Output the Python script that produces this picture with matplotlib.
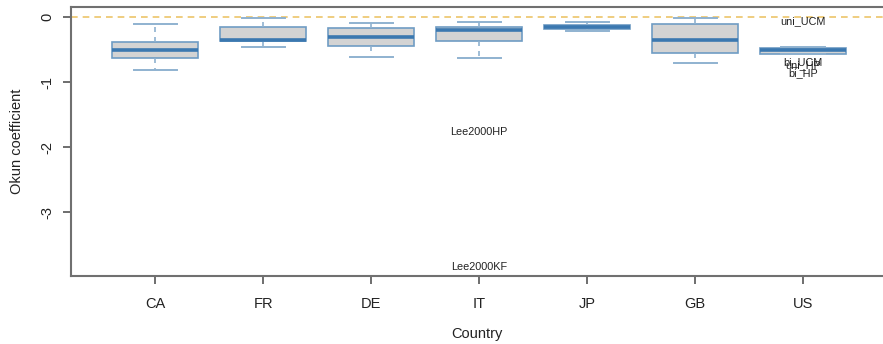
import matplotlib
matplotlib.use("Agg")
import matplotlib.pyplot as plt

plt.rcParams['font.family'] = ['Liberation Sans', 'DejaVu Sans']

# five-number summaries
countries = ['CA', 'FR', 'DE', 'IT', 'JP', 'GB', 'US']
whislo = [-0.82, -0.46, -0.615, -0.63, -0.222, -0.70, -0.575]
q1 = [-0.631, -0.369, -0.452, -0.375, -0.184, -0.56, -0.569]
med = [-0.503, -0.349, -0.303, -0.206, -0.149, -0.354, -0.514]
q3 = [-0.385, -0.154, -0.165, -0.149, -0.118, -0.108, -0.477]
whishi = [-0.108, -0.02, -0.098, -0.072, -0.083, -0.015, -0.457]

# labelled outliers (bi_UCM / uni_HP overlap in the original too)
out_labels = ['uni_UCM', 'bi_UCM', 'uni_HP', 'bi_HP', 'Lee2000HP', 'Lee2000KF']
out_x = [7, 7, 7, 7, 4, 4]
out_y = [-0.07, -0.70, -0.745, -0.86, -1.77, -3.84]

fig = plt.figure(figsize=(8.83, 3.44), dpi=100)
ax = fig.add_axes([0.0804, 0.1985, 0.9196, 0.7803])

stats = []
for i, c in enumerate(countries):
    stats.append(dict(label=c, whislo=whislo[i], q1=q1[i], med=med[i],
                      q3=q3[i], whishi=whishi[i], fliers=[]))

box_edge = '#6f9cc4'
ax.bxp(stats, positions=range(1, len(countries) + 1), widths=0.8,
       capwidths=0.4, patch_artist=True, showfliers=False,
       boxprops=dict(facecolor='#d3d3d3', edgecolor=box_edge, linewidth=1.2),
       medianprops=dict(color='#3b78b0', linewidth=2.6, solid_capstyle='butt'),
       whiskerprops=dict(color='#8fb2d0', linewidth=1.2, linestyle=(0, (3, 3))),
       capprops=dict(color='#8fb2d0', linewidth=1.4))

ax.axhline(0, color='#ecc56a', linestyle=(0, (4, 3)), linewidth=1.2, zorder=0)

for lab, x, y in zip(out_labels, out_x, out_y):
    ax.text(x, y, lab, ha='center', va='center', fontsize=7.8, color='#222222')

ax.set_xlim(0.22, 7.74)
ax.set_ylim(-3.98, 0.15)
ax.set_yticks([0, -1, -2, -3])
ax.set_yticklabels(['0', '-1', '-2', '-3'], rotation=90, va='center')
ax.set_xticks(range(1, len(countries) + 1))
ax.set_xticklabels(countries)

for s in ['left', 'top', 'bottom']:
    ax.spines[s].set_color('#707070')
    ax.spines[s].set_linewidth(1.5)
ax.spines['right'].set_visible(False)
ax.tick_params(axis='both', length=6, width=1.2, color='#555555',
               labelsize=10.5, labelcolor='#222222')
ax.tick_params(axis='x', pad=9)
ax.tick_params(axis='y', pad=6)

ax.set_xlabel('Country', fontsize=10.5, color='#222222', labelpad=12)
ax.set_ylabel('Okun coefficient', fontsize=10.5, color='#222222', labelpad=12)

fig.savefig('out.png', dpi=100)
